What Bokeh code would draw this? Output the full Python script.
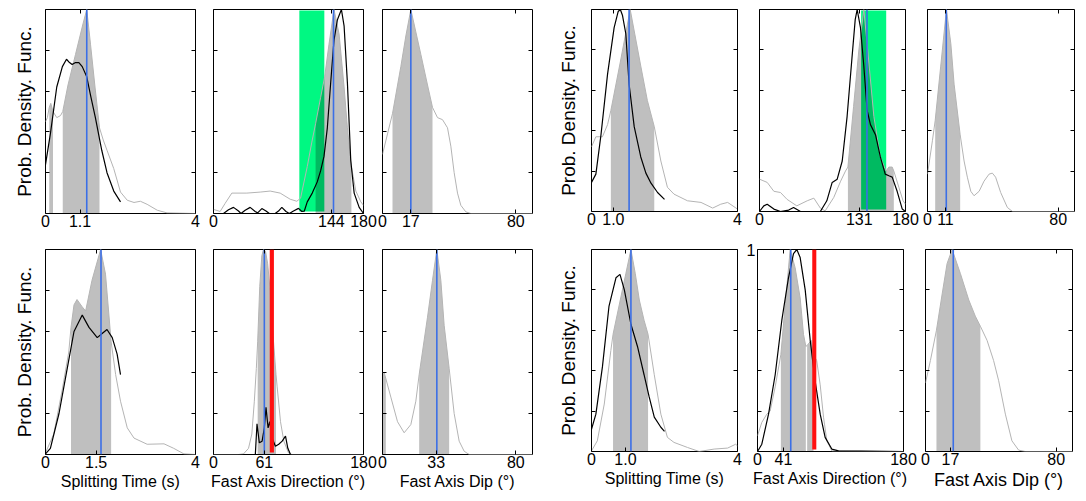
from bokeh.plotting import figure
from bokeh.layouts import row, column
from bokeh.models import Range1d, FixedTicker, LinearAxis
from bokeh.embed import file_html
from bokeh.resources import INLINE

FONT = "Liberation Sans"
FILL_SHADE = "black"      # drawn translucent: grey on white, darker where it sits on a band
FILL_ALPHA = 0.25
GRAY_LINE = "#b4b4b4"
BLUE = "#3b6fe6"
GREEN = "#00f882"
RED = "#ff1010"

X_LABELS = ["Splitting Time (s)", "Fast Axis Direction (°)", "Fast Axis Dip (°)"]
X_MAX = [4, 180, 90]
Y_LABEL = "Prob. Density. Func."

# ---------------- data: panel 1 (time, top-left group) ----------------
P1_GX = [0, 0.05, 0.1, 0.14, 0.2, 0.3, 0.4, 0.46, 0.6, 0.8, 1.0, 1.1, 1.2, 1.32, 1.44, 1.54, 1.64, 1.82, 2.0, 2.18, 2.36, 2.53, 2.71, 2.98, 3.24, 4.0]
P1_GY = [0.45, 0.47, 0.52, 0.54, 0.5, 0.47, 0.48, 0.5, 0.63, 0.78, 0.93, 1.0, 0.83, 0.62, 0.42, 0.36, 0.31, 0.22, 0.105, 0.065, 0.054, 0.06, 0.045, 0.016, 0.003, 0.0]
P1_BX = [0, 0.13, 0.3, 0.45, 0.56, 0.64, 0.71, 0.8, 0.89, 0.98, 1.1, 1.2, 1.33, 1.5, 1.64, 1.82, 2.0]
P1_BY = [0.24, 0.39, 0.62, 0.72, 0.756, 0.74, 0.73, 0.74, 0.74, 0.72, 0.67, 0.58, 0.47, 0.31, 0.2, 0.11, 0.057]
P1_CI = [(0.1, 0.2), (0.46, 1.44)]
P1_MEAN = 1.1
P1_TICKS = [0, 0.92, 4]
P1_TLAB = ["0", "1.1", "4"]

# ---------------- panel 2 (direction) ----------------
P2_GX = [0, 8, 14, 22, 40, 56, 68, 80, 92, 100, 104.5, 112.5, 118, 122.5, 128.6, 133.4, 138.6, 144.6, 150.7, 156.7, 160.7, 165.5, 170.8, 176.8, 180]
P2_GY = [0.02, 0.01, 0.05, 0.1, 0.1, 0.105, 0.11, 0.1, 0.07, 0.06, 0.075, 0.23, 0.35, 0.44, 0.57, 0.67, 0.83, 1.0, 0.88, 0.62, 0.42, 0.23, 0.11, 0.057, 0.04]
P2_BX = [0, 12, 18, 24, 30, 33, 38, 44, 50, 53, 58, 63, 67, 74, 78, 82, 87, 91, 96, 102, 106, 109, 112.5, 118.5, 124.5, 128.6, 132.6, 136.6, 140.6, 144.6, 148.7, 153.5, 156.7, 160.7, 164.7, 168.8, 174.8, 180]
P2_BY = [0, 0.0, 0.018, 0.03, 0.012, 0.0, 0.016, 0.03, 0.01, 0.003, 0.024, 0.012, 0.0, 0.0, 0.012, 0.03, 0.01, 0.0, 0.012, 0.025, 0.01, 0.012, 0.057, 0.1, 0.155, 0.21, 0.28, 0.42, 0.64, 0.85, 0.95, 1.0, 0.92, 0.64, 0.26, 0.1, 0.03, 0.0]
P2_CI = [(122.5, 165.5)]
P2_MEAN = 144
P2_TICKS = [0, 141.5, 180]
P2_TLAB = ["0", "144", "180"]
P2_GREEN = (103, 133)

# ---------------- panel 3 (dip) ----------------
P3_GX = [0, 3, 6, 11, 14, 17, 20, 23, 27, 30, 33, 36, 39, 41, 43, 45, 47, 50, 53, 90]
P3_GY = [0.29, 0.39, 0.49, 0.72, 0.87, 1.0, 0.89, 0.78, 0.63, 0.52, 0.47, 0.46, 0.42, 0.33, 0.2, 0.1, 0.04, 0.008, 0.0, 0.0]
P3_CI = [(6, 30)]
P3_MEAN = 17
P3_TICKS = [0, 17, 80]
P3_TLAB = ["0", "17", "80"]

# ---------------- panel 4 (time, top-right group) ----------------
P4_GX = [0, 0.12, 0.3, 0.44, 0.53, 0.8, 1.06, 1.35, 1.53, 1.72, 1.9, 2.08, 2.26, 2.63, 3.0, 3.32, 3.54, 3.73, 4.0]
P4_GY = [0.32, 0.37, 0.37, 0.43, 0.5, 0.75, 1.0, 0.72, 0.55, 0.42, 0.25, 0.12, 0.086, 0.053, 0.045, 0.017, 0.036, 0.045, 0.012]
P4_BX = [0, 0.12, 0.26, 0.44, 0.62, 0.73, 0.79, 0.85, 0.94, 1.03, 1.17, 1.35, 1.49, 1.63, 1.81, 2.0]
P4_BY = [0.144, 0.185, 0.38, 0.68, 0.91, 0.99, 1.0, 0.97, 0.88, 0.63, 0.42, 0.27, 0.19, 0.14, 0.094, 0.06]
P4_CI = [(0.53, 1.72)]
P4_MEAN = 1.03
P4_TICKS = [0, 0.6, 4]
P4_TLAB = ["0", "1.0", "4"]

# ---------------- panel 5 (direction) ----------------
P5_GX = [0, 9.5, 17.7, 25.9, 34, 46, 58.8, 67, 75, 81, 91.6, 100, 106, 109, 116, 122.5, 128.6, 132.7, 141, 149, 156, 159.5, 163.6, 165.6, 171.8, 177, 180]
P5_GY = [0.16, 0.144, 0.1, 0.094, 0.06, 0.028, 0.053, 0.066, 0.017, 0.003, 0.07, 0.15, 0.2, 0.22, 0.52, 0.8, 1.0, 0.83, 0.47, 0.27, 0.2, 0.22, 0.22, 0.2, 0.12, 0.053, 0.036]
P5_BX = [0, 5.3, 9.5, 17.7, 25.9, 36, 42, 50.5, 75, 83, 89.6, 95.8, 102, 108, 114, 118, 120.4, 124.5, 128.6, 132.7, 136.8, 143, 149, 155, 159.5, 163.6, 169.7, 176, 180]
P5_BY = [0, 0.028, 0.036, 0.012, 0, 0.007, 0.02, 0, 0, 0.053, 0.144, 0.16, 0.25, 0.47, 0.76, 0.95, 1.0, 0.91, 0.72, 0.5, 0.43, 0.38, 0.27, 0.185, 0.177, 0.17, 0.1, 0.012, 0]
P5_CI = [(109, 165.6)]
P5_MEAN = 132.5
P5_TICKS = [0, 123, 180]
P5_TLAB = ["0", "131", "180"]
P5_GREEN = (125.3, 156.2)

# ---------------- panel 6 (dip) ----------------
P6_GX = [0, 3, 4.7, 8.1, 11.6, 14.3, 16.3, 20, 22.4, 24.4, 26.5, 28.5, 31.6, 34.6, 37.7, 39.7, 41.7, 44.8, 48.9, 52, 90]
P6_GY = [0.185, 0.35, 0.45, 0.72, 1.0, 0.83, 0.63, 0.38, 0.25, 0.17, 0.1, 0.078, 0.1, 0.15, 0.185, 0.19, 0.17, 0.094, 0.02, 0, 0]
P6_CI = [(4.7, 20)]
P6_MEAN = 11.5
P6_TICKS = [0, 11, 80]
P6_TLAB = ["0", "11", "80"]

# ---------------- panel 7 (time, bottom-left group) ----------------
P7_GX = [0, 0.22, 0.44, 0.62, 0.68, 0.76, 0.84, 0.98, 1.07, 1.24, 1.47, 1.6, 1.75, 1.87, 2.0, 2.18, 2.36, 2.71, 3.16, 3.42, 3.69, 4.0]
P7_GY = [0.008, 0.1, 0.31, 0.5, 0.62, 0.73, 0.756, 0.72, 0.7, 0.85, 1.0, 0.88, 0.55, 0.39, 0.26, 0.13, 0.08, 0.05, 0.052, 0.03, 0.003, 0]
P7_BX = [0, 0.13, 0.36, 0.58, 0.76, 0.98, 1.16, 1.38, 1.51, 1.64, 1.78, 1.91, 2.0]
P7_BY = [0.003, 0.03, 0.2, 0.42, 0.6, 0.68, 0.62, 0.57, 0.59, 0.61, 0.57, 0.49, 0.39]
P7_CI = [(0.68, 1.75)]
P7_MEAN = 1.48
P7_TICKS = [0, 1.35, 4]
P7_TLAB = ["0", "1.5", "4"]

# ---------------- panel 8 (direction) ----------------
P8_GX = [0, 30, 36, 42, 46, 49, 51.4, 53, 55.5, 58, 60, 62.5, 65, 68, 71.5, 75, 76.4, 80.4, 84.4, 90, 94, 180]
P8_GY = [0, 0, 0.003, 0.03, 0.1, 0.26, 0.42, 0.55, 0.82, 0.97, 1.0, 0.99, 0.93, 0.8, 0.58, 0.39, 0.33, 0.16, 0.065, 0.008, 0, 0]
P8_BX = [0, 50.2, 52.2, 55, 58.3, 61, 63, 65.5, 67.5, 70.3, 74.3, 78.3, 82.4, 86.4, 89.2, 92.4, 180]
P8_BY = [0, 0, 0.15, 0.057, 0.065, 0.13, 0.23, 0.13, 0.16, 0.08, 0.04, 0.05, 0.065, 0.09, 0.03, 0, 0]
P8_CI = [(53, 75)]
P8_MEAN = 61
P8_TICKS = [0, 61, 180]
P8_TLAB = ["0", "61", "180"]
P8_RED = (67.5, 72.5)

# ---------------- panel 9 (dip) ----------------
P9_GX = [0, 1, 2, 5, 9, 13, 17, 20, 22, 27, 30, 32.6, 35, 37, 40, 43, 46, 49, 52, 90]
P9_GY = [0.4, 0.4, 0.37, 0.28, 0.16, 0.106, 0.146, 0.26, 0.39, 0.67, 0.85, 1.0, 0.85, 0.63, 0.42, 0.2, 0.065, 0.016, 0, 0]
P9_CI = [(0, 2), (22, 40)]
P9_MEAN = 32.6
P9_TICKS = [0, 32.2, 80]
P9_TLAB = ["0", "33", "80"]

# ---------------- panel 10 (time, bottom-right group) ----------------
P10_GX = [0, 0.16, 0.35, 0.53, 0.59, 0.8, 0.94, 1.08, 1.2, 1.31, 1.44, 1.55, 1.72, 1.9, 2.08, 2.26, 2.63, 2.95, 3.36, 3.73, 3.95, 4.0]
P10_GY = [0.003, 0.053, 0.235, 0.5, 0.58, 0.76, 0.88, 1.0, 0.88, 0.75, 0.65, 0.58, 0.38, 0.185, 0.07, 0.045, 0.02, 0, 0.012, 0.017, 0.036, 0.028]
P10_BX = [0, 0.12, 0.3, 0.48, 0.67, 0.78, 0.9, 1.08, 1.26, 1.44, 1.58, 1.72, 1.9, 2.0]
P10_BY = [0.11, 0.185, 0.42, 0.72, 0.86, 0.877, 0.8, 0.63, 0.52, 0.38, 0.27, 0.17, 0.12, 0.1]
P10_CI = [(0.59, 1.55)]
P10_MEAN = 1.08
P10_TICKS = [0, 0.93, 4]
P10_TLAB = ["0", "1.0", "4"]

# ---------------- panel 11 (direction) ----------------
P11_GX = [0, 5.3, 11.5, 15.6, 21.8, 28.8, 34, 40.3, 46.4, 52.6, 56.7, 59.6, 61.2, 66.2, 69, 73, 77.3, 81.4, 85.5, 91.6, 180]
P11_GY = [0.078, 0.144, 0.185, 0.2, 0.32, 0.48, 0.72, 1.0, 0.91, 0.76, 0.58, 0.52, 0.525, 0.55, 0.48, 0.45, 0.33, 0.17, 0.053, 0.003, 0]
P11_BX = [0, 5.3, 13.6, 21.8, 30, 38.2, 44.4, 48.5, 52.6, 58.8, 65, 71, 77.3, 83.4, 91.6, 99.9, 180]
P11_BY = [0, 0.036, 0.185, 0.38, 0.65, 0.86, 0.98, 1.0, 0.96, 0.8, 0.55, 0.35, 0.185, 0.07, 0.012, 0.003, 0]
P11_CI = [(28.8, 59.6), (61.2, 69)]
P11_MEAN = 41
P11_TICKS = [0, 32, 180]
P11_TLAB = ["0", "41", "180"]
P11_RED = (67.5, 72.5)
P11_YTOP_TICK = [1.0]
P11_YTOP_LAB = ["1"]

# ---------------- panel 12 (dip) ----------------
P12_GX = [0, 3, 6.7, 10.2, 13.2, 16.3, 21.4, 26.5, 30.5, 33.6, 37.7, 41.7, 44.8, 48.9, 52.9, 57, 61, 90]
P12_GY = [0.34, 0.45, 0.6, 0.78, 0.93, 1.0, 0.88, 0.75, 0.67, 0.62, 0.55, 0.45, 0.35, 0.185, 0.053, 0.007, 0, 0]
P12_CI = [(6.7, 33.6)]
P12_MEAN = 17
P12_TICKS = [0, 15.3, 80]
P12_TLAB = ["0", "17", "80"]

Y_TICKS = [0.2, 0.4, 0.6, 0.8]

PANELS = [
    dict(kind=0, gx=P1_GX, gy=P1_GY, bx=P1_BX, by=P1_BY, ci=P1_CI, mean=P1_MEAN, ticks=P1_TICKS, tlab=P1_TLAB),
    dict(kind=1, gx=P2_GX, gy=P2_GY, bx=P2_BX, by=P2_BY, ci=P2_CI, mean=P2_MEAN, ticks=P2_TICKS, tlab=P2_TLAB, green=P2_GREEN),
    dict(kind=2, gx=P3_GX, gy=P3_GY, ci=P3_CI, mean=P3_MEAN, ticks=P3_TICKS, tlab=P3_TLAB),
    dict(kind=0, gx=P4_GX, gy=P4_GY, bx=P4_BX, by=P4_BY, ci=P4_CI, mean=P4_MEAN, ticks=P4_TICKS, tlab=P4_TLAB),
    dict(kind=1, gx=P5_GX, gy=P5_GY, bx=P5_BX, by=P5_BY, ci=P5_CI, mean=P5_MEAN, ticks=P5_TICKS, tlab=P5_TLAB, green=P5_GREEN),
    dict(kind=2, gx=P6_GX, gy=P6_GY, ci=P6_CI, mean=P6_MEAN, ticks=P6_TICKS, tlab=P6_TLAB),
    dict(kind=0, gx=P7_GX, gy=P7_GY, bx=P7_BX, by=P7_BY, ci=P7_CI, mean=P7_MEAN, ticks=P7_TICKS, tlab=P7_TLAB),
    dict(kind=1, gx=P8_GX, gy=P8_GY, bx=P8_BX, by=P8_BY, ci=P8_CI, mean=P8_MEAN, ticks=P8_TICKS, tlab=P8_TLAB, red=P8_RED),
    dict(kind=2, gx=P9_GX, gy=P9_GY, ci=P9_CI, mean=P9_MEAN, ticks=P9_TICKS, tlab=P9_TLAB),
    dict(kind=0, gx=P10_GX, gy=P10_GY, bx=P10_BX, by=P10_BY, ci=P10_CI, mean=P10_MEAN, ticks=P10_TICKS, tlab=P10_TLAB),
    dict(kind=1, gx=P11_GX, gy=P11_GY, bx=P11_BX, by=P11_BY, ci=P11_CI, mean=P11_MEAN, ticks=P11_TICKS, tlab=P11_TLAB, red=P11_RED,
         ytop=(P11_YTOP_TICK, P11_YTOP_LAB)),
    dict(kind=2, gx=P12_GX, gy=P12_GY, ci=P12_CI, mean=P12_MEAN, ticks=P12_TICKS, tlab=P12_TLAB),
]

# layout geometry: (left border, frame width, right border, top border, frame height, bottom border)
GEOM = [
    (45, 150, 9, 9, 204, 27), (9, 150, 14, 9, 204, 27), (5, 150, 9, 9, 204, 27),
    (50, 146, 11, 9, 202, 29), (11, 146, 14, 9, 202, 29), (8, 147, 3, 9, 202, 29),
    (45, 150, 9, 8, 205, 40), (9, 150, 14, 8, 205, 40), (5, 150, 9, 8, 205, 40),
    (50, 146, 6, 9, 202, 42), (14, 146, 14, 9, 202, 42), (8, 147, 3, 9, 202, 42),
]


def style_axis(ax, ticks, labels=None, size="16px", standoff=1):
    ax.ticker = FixedTicker(ticks=ticks, minor_ticks=[])
    ax.axis_line_color = None
    ax.major_tick_in = 4
    ax.major_tick_out = 0
    ax.minor_tick_in = 0
    ax.minor_tick_out = 0
    ax.major_tick_line_color = "black"
    ax.major_label_text_font = FONT
    if labels is None:
        ax.major_label_text_font_size = "1px"
        ax.major_label_text_color = None
        ax.major_label_text_alpha = 0
        ax.major_label_standoff = 0
    else:
        ax.major_label_overrides = {t: l for t, l in zip(ticks, labels)}
        ax.major_label_text_font_size = size
        ax.major_label_text_color = "black"
        ax.major_label_standoff = standoff


def make_panel(i, spec, geom):
    l, fw, r, t, fh, b = geom
    kind = spec["kind"]
    xmax = X_MAX[kind]
    bottom_row = i >= 6
    right_group = (i % 6) >= 3
    p = figure(x_range=Range1d(0, xmax), y_range=Range1d(0, 1),
               frame_width=fw, frame_height=fh,
               min_border_left=l, min_border_right=r,
               min_border_top=t, min_border_bottom=b,
               output_backend="svg", toolbar_location=None)
    p.xgrid.visible = False
    p.ygrid.visible = False
    p.outline_line_color = "black"
    p.outline_line_width = 1
    p.outline_line_alpha = 1
    p.background_fill_color = "white"
    p.border_fill_color = "white"

    if "green" in spec:
        lo, hi = spec["green"]
        p.quad(left=[lo], right=[hi], bottom=[0.01], top=[0.995],
               fill_color=GREEN, line_color=None)
    for lo, hi in spec["ci"]:
        xs = [x for x in spec["gx"] if lo <= x <= hi]
        ys = [y for x, y in zip(spec["gx"], spec["gy"]) if lo <= x <= hi]
        p.varea(x=xs, y1=[0] * len(xs), y2=ys, fill_color=FILL_SHADE, fill_alpha=FILL_ALPHA)
    p.line(spec["gx"], spec["gy"], line_color=GRAY_LINE, line_width=1)
    if "bx" in spec:
        p.line(spec["bx"], spec["by"], line_color="black", line_width=1.2)
    p.segment(x0=[spec["mean"]], y0=[0], x1=[spec["mean"]], y1=[1],
              line_color=BLUE, line_width=1.6)
    if "red" in spec:
        lo, hi = spec["red"]
        p.quad(left=[lo], right=[hi], bottom=[0.01], top=[1],
               fill_color=RED, line_color=None)

    # axes
    xb = p.xaxis[0]
    yl = p.yaxis[0]
    style_axis(xb, spec["ticks"], spec["tlab"], "16px", 1)
    style_axis(yl, Y_TICKS)
    top = LinearAxis()
    style_axis(top, spec["ticks"])
    p.add_layout(top, "above")
    right = LinearAxis()
    style_axis(right, Y_TICKS)
    p.add_layout(right, "right")

    if "ytop" in spec:
        tk, lb = spec["ytop"]
        extra = LinearAxis()
        style_axis(extra, tk, lb, "16px", 2)
        extra.major_tick_in = 0
        p.add_layout(extra, "left")

    if (i % 6) in (0, 3):
        yl.axis_label = Y_LABEL
        yl.axis_label_text_font = FONT
        yl.axis_label_text_font_size = "19px"
        yl.axis_label_text_font_style = "normal"
        yl.axis_label_text_color = "black"
        yl.axis_label_standoff = 13 if right_group else 11
    if bottom_row:
        xb.axis_label = X_LABELS[kind]
        xb.axis_label_text_font = FONT
        xb.axis_label_text_font_size = "18px" if (right_group and kind == 2) else "16px"
        xb.axis_label_text_font_style = "normal"
        xb.axis_label_text_color = "black"
        xb.axis_label_standoff = 2
    return p


figs = [make_panel(i, s, g) for i, (s, g) in enumerate(zip(PANELS, GEOM))]
layout = column(row(*figs[:6]), row(*figs[6:]))
open("out.html", "w").write(file_html(layout, INLINE))
